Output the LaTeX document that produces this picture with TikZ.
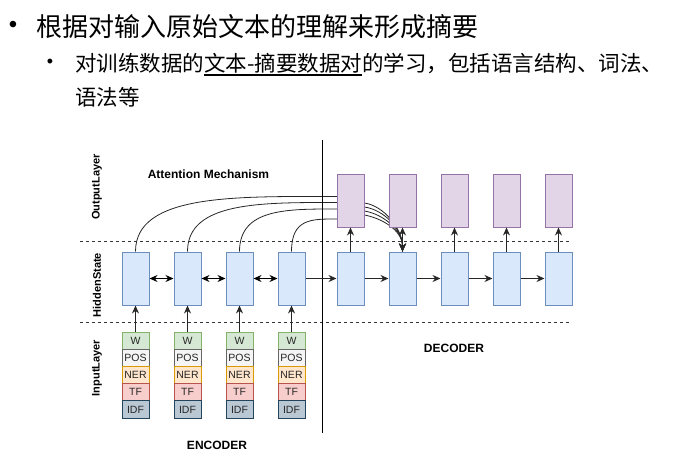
\documentclass[tikz,border=0pt]{standalone}
\usepackage{fontspec}
\newfontfamily\cjk{Noto Sans CJK SC}
\newfontfamily\arial{Liberation Sans}
\usetikzlibrary{arrows.meta,calc}
\pgfdeclarelayer{background}
\pgfsetlayers{background,main}
\definecolor{hidF}{HTML}{DAE8FC}\definecolor{hidS}{HTML}{6C8EBF}
\definecolor{outF}{HTML}{E1D5E7}\definecolor{outS}{HTML}{9673A6}
\definecolor{wF}{HTML}{D5E8D4}\definecolor{wS}{HTML}{82B366}
\definecolor{posF}{HTML}{F5F5F5}\definecolor{posS}{HTML}{666666}
\definecolor{nerF}{HTML}{FFE6CC}\definecolor{nerS}{HTML}{D79B00}
\definecolor{tfF}{HTML}{F8CECC}\definecolor{tfS}{HTML}{B85450}
\definecolor{idfF}{HTML}{BAC8D3}\definecolor{idfS}{HTML}{23445D}
\newcommand\myul[1]{\setbox0\hbox{#1}\rlap{\rule[-4.5pt]{\wd0}{1.3pt}}\box0}
\begin{document}
\begin{tikzpicture}[x=1pt,y=-1pt,
  hid/.style={draw=hidS, fill=hidF, minimum width=27pt, minimum height=53pt, inner sep=0pt, line width=1pt},
  outbox/.style={draw=outS, fill=outF, minimum width=27pt, minimum height=53pt, inner sep=0pt, line width=1pt},
  cell/.style={minimum width=27pt, minimum height=17.2pt, inner sep=0pt, line width=1pt, text=black!85, font=\arial\fontsize{10.5}{11}\selectfont},
  cw/.style={cell, draw=wS, fill=wF},
  cpos/.style={cell, draw=posS, fill=posF},
  cner/.style={cell, draw=nerS, fill=nerF},
  ctf/.style={cell, draw=tfS, fill=tfF},
  cidf/.style={cell, draw=idfS, fill=idfF},
  arr/.style={-{Stealth[length=8pt,width=7pt]}, line width=1pt, black!85},
  darr/.style={{Stealth[length=8pt,width=7pt]}-{Stealth[length=8pt,width=7pt]}, line width=1pt},
  attn/.style={-{Stealth[length=8pt,width=7pt]}, line width=0.8pt, black!85},
  dashline/.style={line width=1pt, dash pattern=on 3pt off 3pt, black!80},
  lab/.style={font=\arial\bfseries\fontsize{11}{13}\selectfont, inner sep=0pt},
  biglab/.style={font=\arial\bfseries\fontsize{12}{14}\selectfont, inner sep=0pt}
]
\useasboundingbox (0,0) rectangle (697,466);

% title text
\node[inner sep=0pt] (b1) at (13,27) {\arial\fontsize{24}{28}\selectfont •};
\node[anchor=base west, inner sep=0pt] (t1) at (36,36) {\cjk\fontsize{26}{30}\selectfont 根据对输入原始文本的理解来形成摘要};
\node[inner sep=0pt] (b2) at (50,63) {\arial\fontsize{18}{22}\selectfont •};
\node[anchor=base west, inner sep=0pt] (t2) at (75,71) {\cjk\fontsize{21.5}{25}\selectfont 对训练数据的\myul{文本-摘要数据对}的学习，包括语言结构、词法、};
\node[anchor=base west, inner sep=0pt] (t3) at (75,105) {\cjk\fontsize{21.5}{25}\selectfont 语法等};

% separators
\draw[dashline] (80,241) -- (569,241);
\draw[dashline] (80,322) -- (569,322);
\draw[line width=1pt] (322,140) -- (322,433);

% encoder
\foreach \i/\x in {1/135.5,2/187.5,3/239.5,4/291.5}{
  \node[hid] (e\i) at (\x,278.5) {};
  \node[cw] (w\i) at (\x,340.6) {W};
  \node[cpos] (p\i) at (\x,357.8) {POS};
  \node[cner] (n\i) at (\x,375) {NER};
  \node[ctf] (f\i) at (\x,392.2) {TF};
  \node[cidf] (g\i) at (\x,409.4) {IDF};
  \draw[arr] (w\i) -- (e\i);
}
% decoder
\foreach \i/\x in {1/350.5,2/402.5,3/454.5,4/506.5,5/558.5}{
  \node[hid] (d\i) at (\x,278.5) {};
  \node[outbox] (o\i) at (\x,200.5) {};
  \draw[arr] (d\i) -- (o\i);
}
\draw[darr] (e1) -- (e2);
\draw[darr] (e2) -- (e3);
\draw[darr] (e3) -- (e4);
\draw[arr] (e4) -- (d1);
\draw[arr] (d1) -- (d2);
\draw[arr] (d2) -- (d3);
\draw[arr] (d3) -- (d4);
\draw[arr] (d4) -- (d5);

% attention
\begin{pgfonlayer}{background}
\draw[attn] (e1.north) .. controls +(0,-58) and +(-100,0) .. ([yshift=4pt]o1.west) -- ([yshift=-2.5pt]o1.east) .. controls +(20,3) and +(0,-22) .. (d2.north);
\draw[attn] (e2.north) .. controls +(0,-50) and +(-75,0) .. ([yshift=-2pt]o1.west) -- ([yshift=-6.5pt]o1.east) .. controls +(20,3) and +(0,-22) .. (d2.north);
\draw[attn] (e3.north) .. controls +(0,-43) and +(-50,0) .. ([yshift=-8.5pt]o1.west) -- ([yshift=-10.5pt]o1.east) .. controls +(18,3) and +(0,-22) .. (d2.north);
\draw[attn] (e4.north) .. controls +(0,-33) and +(-25,0) .. ([yshift=-18.5pt]o1.west) -- ([yshift=-14.5pt]o1.east) .. controls +(16,3) and +(0,-22) .. (d2.north);
\end{pgfonlayer}

% labels
\node[lab, rotate=90] (lo) at (97,187) {OutputLayer};
\node[lab, rotate=90] (lh) at (97,285) {HiddenState};
\node[lab, rotate=90] (li) at (97,368) {InputLayer};
\node[biglab] (am) at (208.5,174) {Attention Mechanism};
\node[biglab] (enc) at (217,445) {ENCODER};
\node[biglab] (dec) at (454,348) {DECODER};
\end{tikzpicture}
\end{document}
